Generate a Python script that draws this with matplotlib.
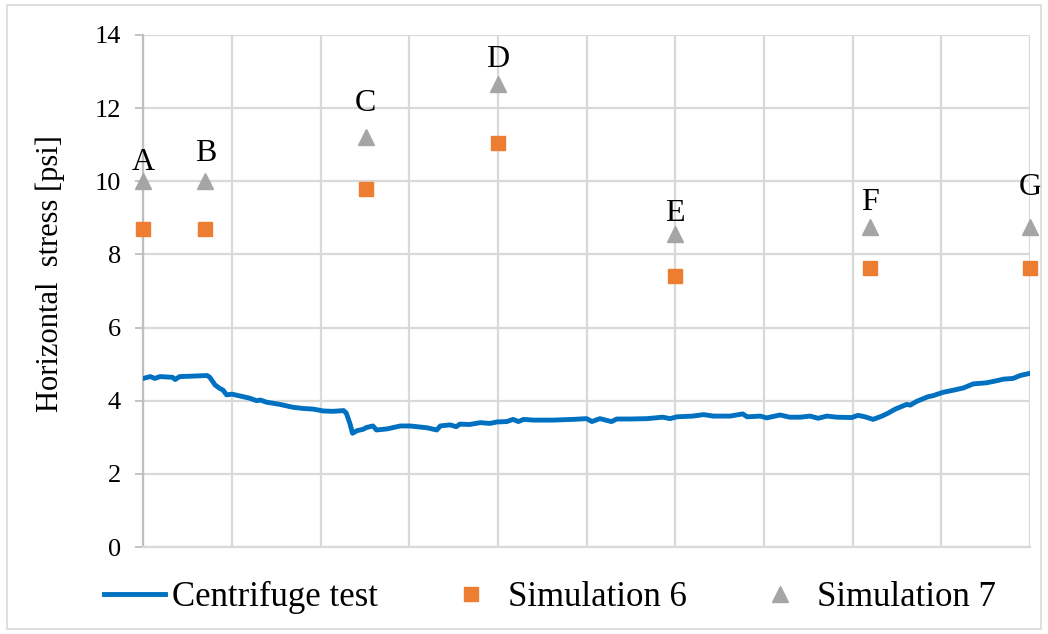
import matplotlib.pyplot as plt
from matplotlib.patches import Rectangle

plt.rcParams['font.family'] = ['Liberation Serif', 'DejaVu Serif']

# centrifuge test record (position along the section, stress in psi)
test_x = [0.00, 0.08, 0.13, 0.19, 0.33, 0.36, 0.41, 0.53, 0.72, 0.75, 0.81, 0.86,
          0.90, 0.94, 1.00, 1.09, 1.20, 1.28, 1.32, 1.39, 1.54, 1.69, 1.80, 1.92,
          2.03, 2.14, 2.26, 2.29, 2.33, 2.36, 2.41, 2.48, 2.52, 2.59, 2.63, 2.75,
          2.90, 3.01, 3.20, 3.31, 3.35, 3.46, 3.53, 3.57, 3.68, 3.80, 3.91, 3.99,
          4.10, 4.17, 4.23, 4.29, 4.40, 4.62, 4.85, 5.00, 5.06, 5.15, 5.28, 5.34,
          5.49, 5.68, 5.86, 5.94, 6.02, 6.20, 6.32, 6.43, 6.62, 6.76, 6.81, 6.96,
          7.03, 7.18, 7.29, 7.41, 7.52, 7.61, 7.71, 7.82, 7.99, 8.06, 8.14, 8.23,
          8.33, 8.40, 8.48, 8.61, 8.65, 8.72, 8.85, 8.91, 9.02, 9.14, 9.25, 9.36,
          9.51, 9.63, 9.70, 9.81, 9.89, 10.00]
test_stress = [4.61, 4.66, 4.61, 4.66, 4.64, 4.58, 4.66, 4.67, 4.69, 4.64, 4.43, 4.34,
               4.29, 4.16, 4.18, 4.13, 4.07, 4.00, 4.02, 3.96, 3.90, 3.82, 3.79, 3.77,
               3.72, 3.71, 3.73, 3.66, 3.38, 3.11, 3.18, 3.22, 3.27, 3.31, 3.20, 3.23,
               3.31, 3.31, 3.26, 3.20, 3.31, 3.34, 3.29, 3.36, 3.35, 3.40, 3.38, 3.42,
               3.43, 3.49, 3.43, 3.49, 3.47, 3.47, 3.49, 3.51, 3.43, 3.51, 3.43, 3.50,
               3.50, 3.51, 3.55, 3.51, 3.56, 3.58, 3.62, 3.58, 3.58, 3.64, 3.56, 3.58,
               3.53, 3.61, 3.55, 3.55, 3.58, 3.52, 3.58, 3.55, 3.54, 3.60, 3.56, 3.49,
               3.58, 3.66, 3.77, 3.90, 3.88, 3.98, 4.11, 4.14, 4.23, 4.29, 4.35, 4.46,
               4.49, 4.55, 4.59, 4.61, 4.69, 4.75]

# simulated points
points = ['A', 'B', 'C', 'D', 'E', 'F', 'G']
point_x = [0.0, 0.70, 2.51, 4.0, 6.0, 8.2, 10.0]
sim6 = [8.70, 8.70, 9.78, 11.06, 7.42, 7.62, 7.62]
sim7 = [10.02, 10.02, 11.22, 12.66, 8.56, 8.74, 8.74]
label_y = [10.51, 10.77, 12.13, 13.34, 9.11, 9.43, 9.82]

fig = plt.figure(figsize=(10.48, 6.34), dpi=100)
ax = fig.add_axes([0.1367, 0.1372, 0.8461, 0.8076])

grid_c = '#d9d9d9'
ax.plot(test_x, test_stress, color='#0070C0', lw=3.5, label='Centrifuge test', zorder=3)
ax.plot(point_x, sim6, ls='none', marker='s', ms=10.5, color='#ED7D31',
        label='Simulation 6', clip_on=False, zorder=4)
ax.plot(point_x, sim7, ls='none', marker='^', ms=11, color='#A5A5A5',
        label='Simulation 7', clip_on=False, zorder=4)

for name, x, y in zip(points, point_x, label_y):
    ax.text(x, y, name, ha='center', va='center', fontsize=23, clip_on=False)

ax.set_xlim(0, 10)
ax.set_ylim(0, 14)
ax.set_xticks(range(11))
ax.set_yticks(range(0, 15, 2))
ax.set_xticklabels([])
ax.tick_params(axis='x', length=0)
ax.tick_params(axis='y', length=6, width=1.3, color='#bfbfbf', pad=10, labelsize=19)
ax.grid(True, color=grid_c, lw=1.6, zorder=0)
ax.set_axisbelow(True)
for side in ['top', 'right']:
    ax.spines[side].set_visible(False)
ax.spines['left'].set_color('#bfbfbf')
ax.spines['bottom'].set_color(grid_c)
ax.spines['left'].set_linewidth(1.6)
ax.spines['bottom'].set_linewidth(1.6)

ax.set_ylabel('Horizontal  stress [psi]', fontsize=22)
ax.yaxis.set_label_coords(-0.088, 0.535)

fig.legend(loc='center', bbox_to_anchor=(0.525, 0.058), ncol=3, frameon=False,
           fontsize=25, handlelength=1.75, handletextpad=0.2, columnspacing=1.8)

fig.patches.append(Rectangle((0.007, 0.008), 0.986, 0.984, transform=fig.transFigure,
                             fill=False, ec=grid_c, lw=1.2))

fig.savefig('out.png', dpi=100)
